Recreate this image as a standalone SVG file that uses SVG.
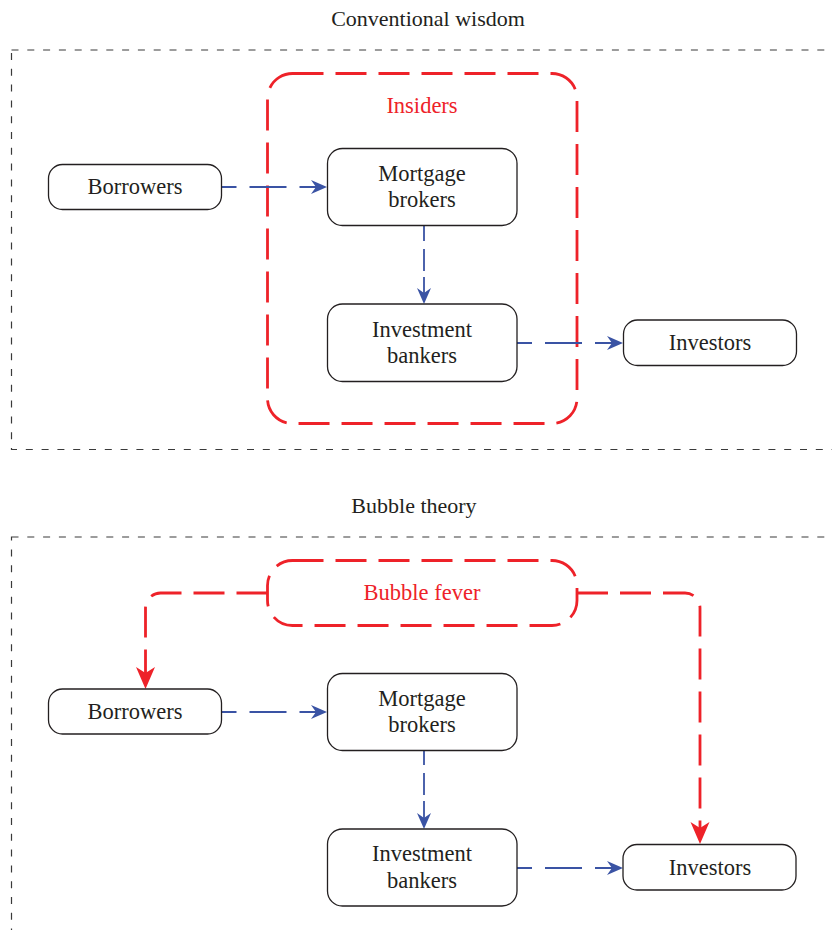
<svg xmlns="http://www.w3.org/2000/svg" width="832" height="930" viewBox="0 0 832 930">
<style>
  text { font-family: "Liberation Serif", "Times New Roman", serif; font-size: 22.5px; fill: #231f20; text-anchor: middle; }
  .title { font-size: 22px; }
  .red { fill: #ee2229; }
  .frame { fill: none; stroke: #3a3a3a; stroke-width: 1.2; stroke-dasharray: 7 8.8; }
  .node { fill: #fff; stroke: #231f20; stroke-width: 1.3; }
  .group { fill: none; stroke: #ee2229; stroke-width: 2.8; stroke-dasharray: 31 12; }
  .blue { fill: none; stroke: #3a53a4; stroke-width: 1.8; marker-end: url(#ab); }
  .h { stroke-dasharray: 15 13 37 13 200; }
  .v { stroke-dasharray: 15 8 22 6 200; }
  .redc { fill: none; stroke: #ee2229; stroke-width: 2.8; stroke-dasharray: 31 12; marker-end: url(#ar); }
</style>
<defs>
  <marker id="ab" markerUnits="userSpaceOnUse" orient="auto" refX="0" refY="0" markerWidth="40" markerHeight="40" overflow="visible">
    <path d="M10,0 L-6,-7 L-1,0 L-6,7 Z" fill="#3a53a4"/>
  </marker>
  <marker id="ar" markerUnits="userSpaceOnUse" orient="auto" refX="0" refY="0" markerWidth="40" markerHeight="40" overflow="visible">
    <path d="M12,0 L-10,-9.5 L-4,0 L-10,9.5 Z" fill="#ee2229"/>
  </marker>
</defs>

<g id="frame-top">
  <rect class="frame" x="11.5" y="50" width="830" height="399.5"/>
  <text class="title" x="428" y="26">Conventional wisdom</text>
</g>
<g id="frame-bottom">
  <rect class="frame" x="11.5" y="537" width="830" height="420"/>
  <text class="title" x="414" y="513">Bubble theory</text>
</g>

<g id="insiders">
  <rect class="group" x="267.5" y="73.5" width="309.5" height="350" rx="25"/>
  <text class="red" x="422" y="112.5">Insiders</text>
</g>
<g id="bubble-fever">
  <rect class="group" x="267.5" y="560.5" width="309.5" height="65" rx="25"/>
  <text class="red" x="422" y="600">Bubble fever</text>
</g>

<g id="connectors">
  <path class="blue h" d="M221.5,187 H317"/>
  <path class="blue v" d="M424,226 V294"/>
  <path class="blue h" d="M517,343 H613"/>
  <path class="blue h" d="M221.5,712 H317"/>
  <path class="blue v" d="M424,750 V819"/>
  <path class="blue h" d="M517,868 H613"/>
  <path class="redc" d="M267.5,593 H160.5 A15,15 0 0 0 145.5,608 V677"/>
  <path class="redc" d="M577,593 H685 A15,15 0 0 1 700,608 V832"/>
</g>

<g id="borrowers-top">
  <rect class="node" x="48.5" y="164.5" width="173" height="45" rx="14"/>
  <text x="135" y="194">Borrowers</text>
</g>
<g id="mortgage-top">
  <rect class="node" x="327.5" y="148.5" width="189.5" height="77" rx="15"/>
  <text x="422" y="180.5">Mortgage</text>
  <text x="422" y="206.5">brokers</text>
</g>
<g id="investment-top">
  <rect class="node" x="327.5" y="304" width="189.5" height="77.5" rx="15"/>
  <text x="422" y="336.5">Investment</text>
  <text x="422" y="362.5">bankers</text>
</g>
<g id="investors-top">
  <rect class="node" x="623.5" y="320" width="173" height="45.5" rx="14"/>
  <text x="710" y="350">Investors</text>
</g>

<g id="borrowers-bottom">
  <rect class="node" x="48.5" y="689" width="173" height="45" rx="14"/>
  <text x="135" y="718.5">Borrowers</text>
</g>
<g id="mortgage-bottom">
  <rect class="node" x="327.5" y="673.5" width="189.5" height="77" rx="15"/>
  <text x="422" y="705.5">Mortgage</text>
  <text x="422" y="731.5">brokers</text>
</g>
<g id="investment-bottom">
  <rect class="node" x="327.5" y="829" width="189.5" height="77" rx="15"/>
  <text x="422" y="861">Investment</text>
  <text x="422" y="887.5">bankers</text>
</g>
<g id="investors-bottom">
  <rect class="node" x="623" y="844.5" width="173" height="45.5" rx="14"/>
  <text x="710" y="874.5">Investors</text>
</g>
</svg>
